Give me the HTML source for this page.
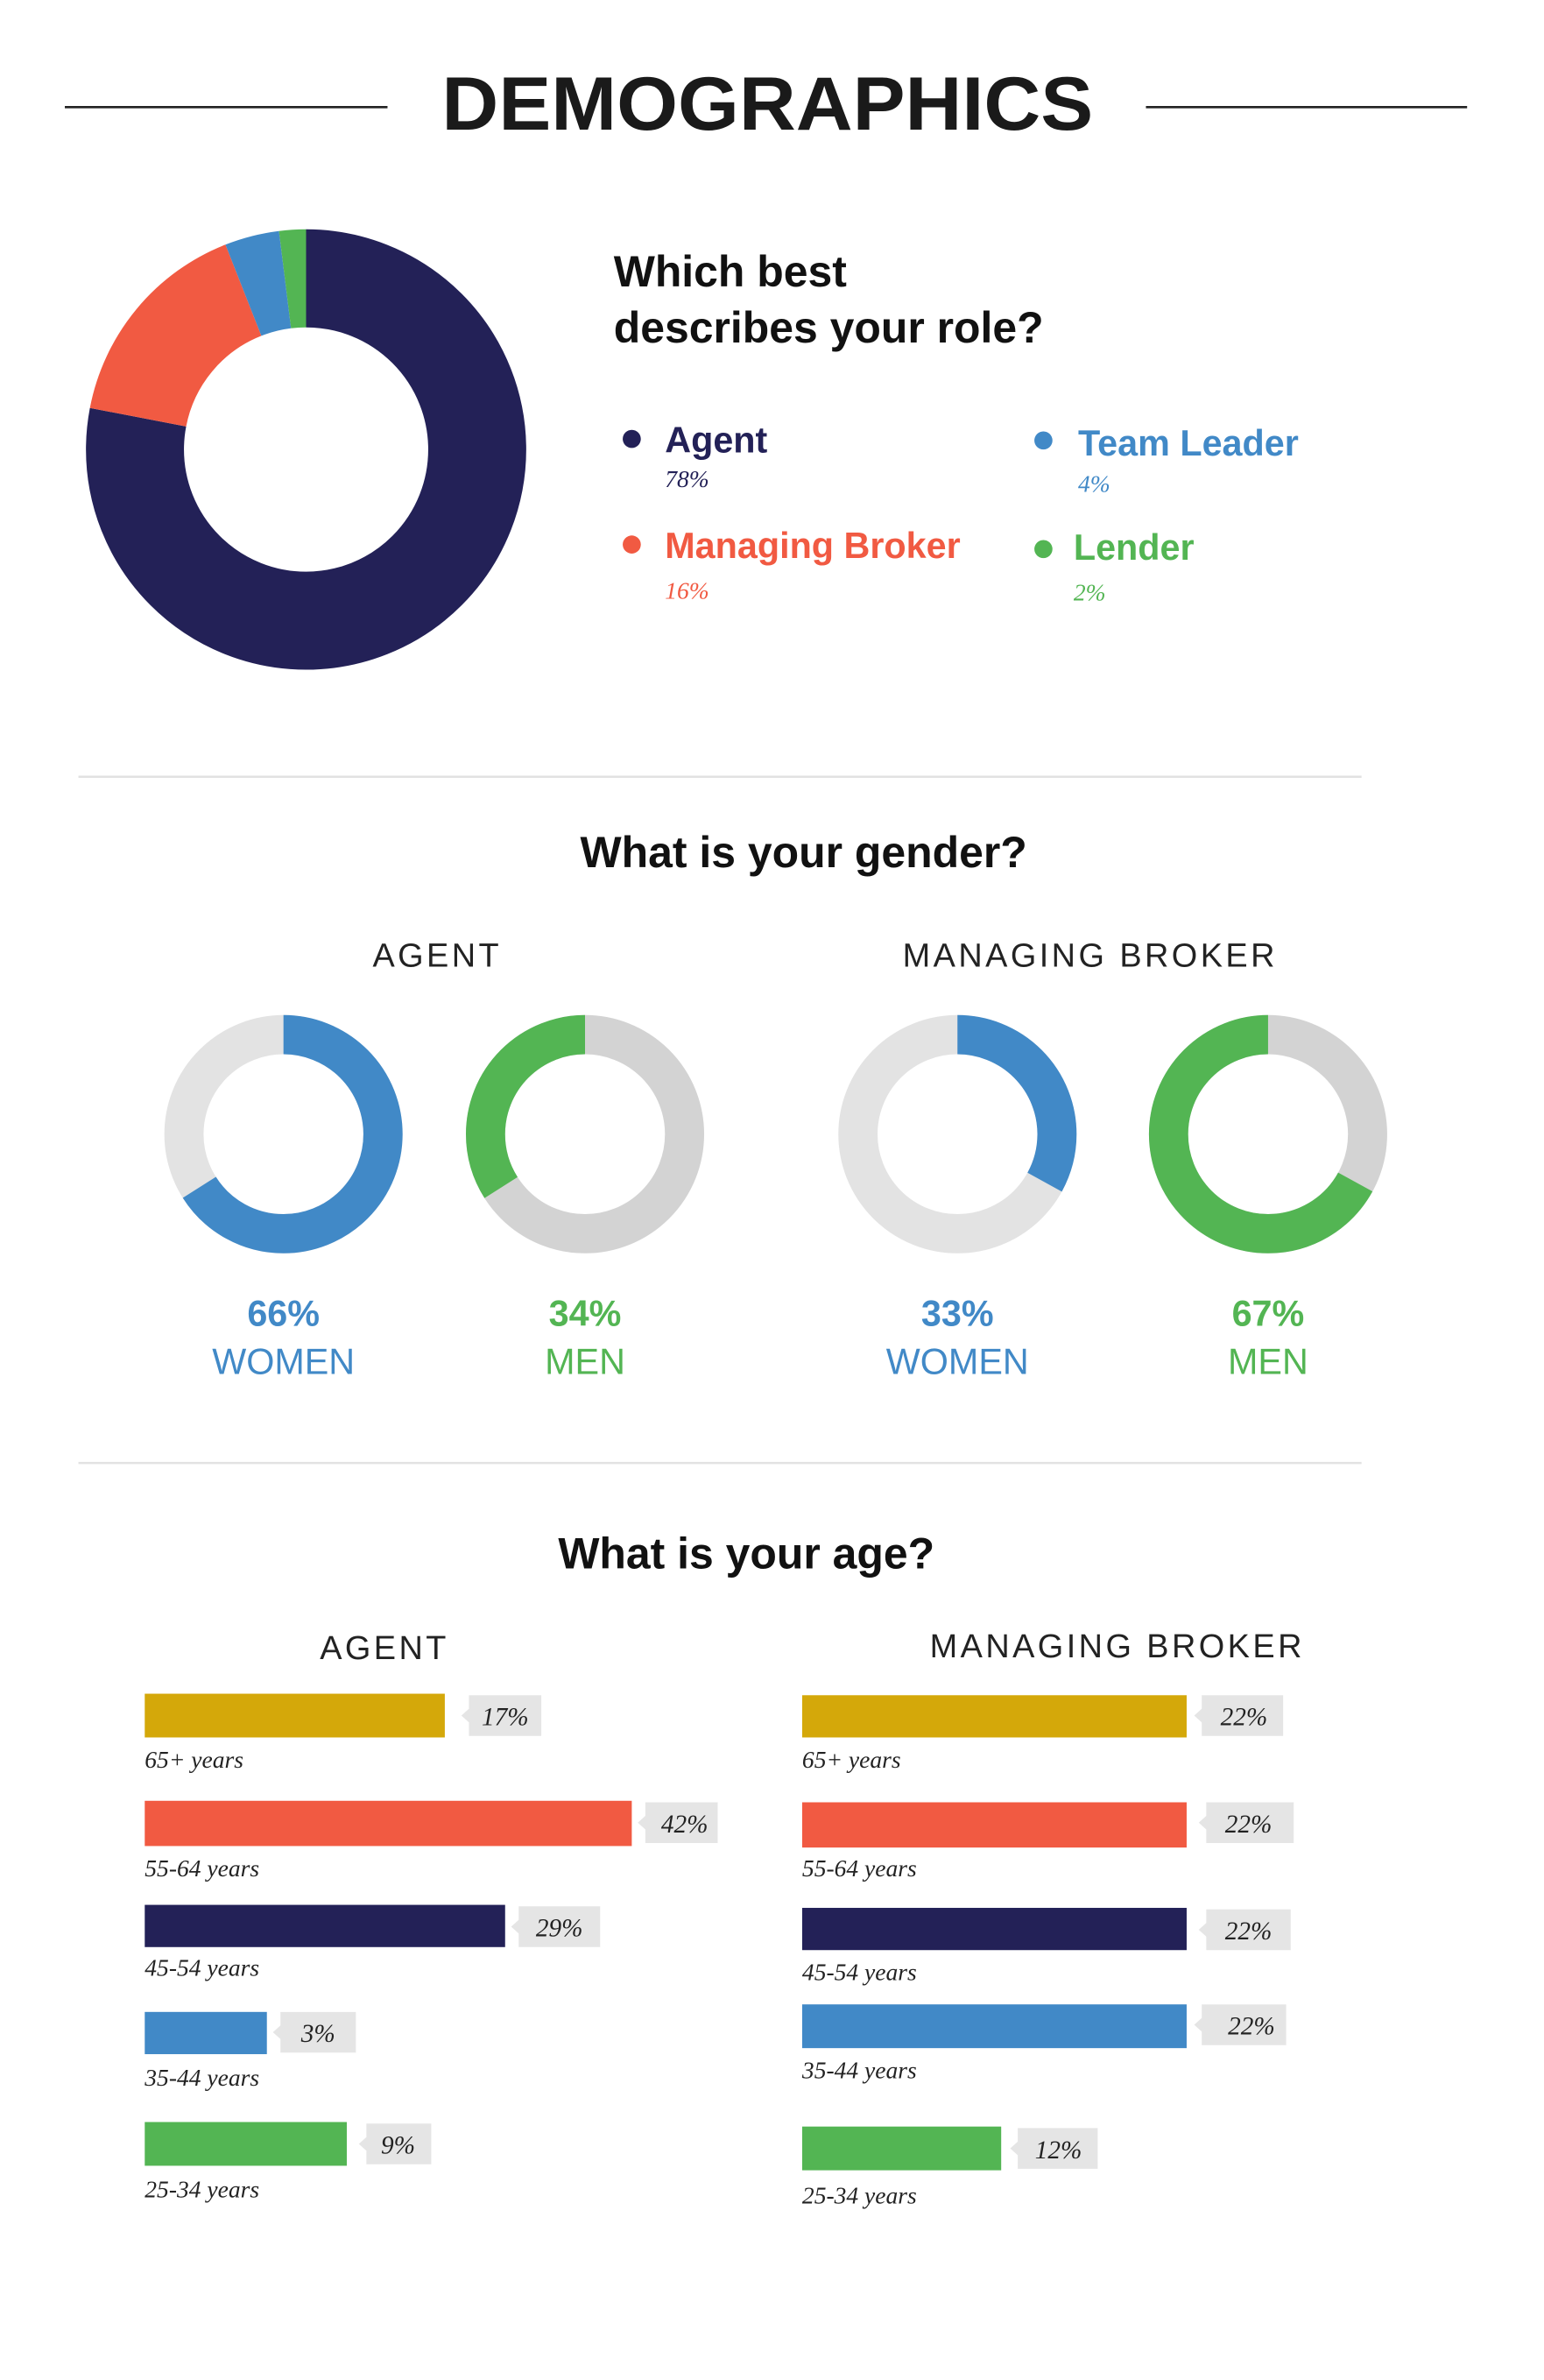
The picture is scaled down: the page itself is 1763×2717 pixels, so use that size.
<!DOCTYPE html>
<html><head><meta charset="utf-8"><style>
html,body{margin:0;padding:0;background:#fff}
svg{display:block}
.sans{font-family:"Liberation Sans",sans-serif}
.ser{font-family:"Liberation Serif",serif;font-style:italic}
</style></head><body>
<svg width="1763" height="2717" viewBox="0 0 1024 1578" xmlns="http://www.w3.org/2000/svg">
<rect width="1024" height="1578" fill="#fff"/>
<line x1="43" y1="71" x2="257" y2="71" stroke="#222" stroke-width="1.5"/>
<line x1="760" y1="71" x2="973" y2="71" stroke="#222" stroke-width="1.5"/>
<text x="509" y="86" text-anchor="middle" class="sans" font-weight="bold" font-size="50" fill="#1a1a1a" textLength="432" lengthAdjust="spacingAndGlyphs">DEMOGRAPHICS</text>

<!-- big donut -->
<g transform="rotate(-90 203 298)" fill="none" stroke-width="65">
<circle cx="203" cy="298" r="113.5" stroke="#232157" stroke-dasharray="556.2 1000"/>
<circle cx="203" cy="298" r="113.5" stroke="#f15a42" stroke-dasharray="0 556.2 114.1 1000"/>
<circle cx="203" cy="298" r="113.5" stroke="#4189c7" stroke-dasharray="0 670.3 28.5 1000"/>
<circle cx="203" cy="298" r="113.5" stroke="#53b553" stroke-dasharray="0 698.8 14.4 1000"/>
</g>
<g class="sans" font-weight="bold" font-size="29" fill="#111">
<text x="407" y="190">Which best</text>
<text x="407" y="227">describes your role?</text>
</g>
<circle cx="419" cy="291" r="6" fill="#232157"/>
<text x="441" y="300" class="sans" font-weight="bold" font-size="24" fill="#232157">Agent</text>
<text x="441" y="323" class="ser" font-size="16" fill="#232157">78%</text>
<circle cx="692" cy="292" r="6" fill="#4189c7"/>
<text x="715" y="302" class="sans" font-weight="bold" font-size="24" fill="#4189c7">Team Leader</text>
<text x="715" y="326" class="ser" font-size="16" fill="#4189c7">4%</text>
<circle cx="419" cy="361" r="6" fill="#f15a42"/>
<text x="441" y="370" class="sans" font-weight="bold" font-size="24" fill="#f15a42">Managing Broker</text>
<text x="441" y="397" class="ser" font-size="16" fill="#f15a42">16%</text>
<circle cx="692" cy="364" r="6" fill="#53b553"/>
<text x="712" y="371" class="sans" font-weight="bold" font-size="24" fill="#53b553">Lender</text>
<text x="712" y="398" class="ser" font-size="16" fill="#53b553">2%</text>

<line x1="52" y1="515" x2="903" y2="515" stroke="#e2e2e2" stroke-width="1.5"/>
<text x="533" y="575" text-anchor="middle" class="sans" font-weight="bold" font-size="29" fill="#111">What is your gender?</text>
<text x="290" y="641" text-anchor="middle" class="sans" font-size="22" letter-spacing="2" fill="#222">AGENT</text>
<text x="723" y="641" text-anchor="middle" class="sans" font-size="22" letter-spacing="2" fill="#222">MANAGING BROKER</text>

<g fill="none" stroke-width="26">
<circle cx="188" cy="752" r="66" stroke="#e3e3e3"/>
<circle cx="188" cy="752" r="66" stroke="#4189c7" stroke-dasharray="273.7 1000" transform="rotate(-90 188 752)"/>
<circle cx="388" cy="752" r="66" stroke="#d3d3d3"/>
<circle cx="388" cy="752" r="66" stroke="#53b553" stroke-dasharray="141 1000" transform="translate(776 0) scale(-1 1) rotate(-90 388 752)"/>
<circle cx="635" cy="752" r="66" stroke="#e3e3e3"/>
<circle cx="635" cy="752" r="66" stroke="#4189c7" stroke-dasharray="136.8 1000" transform="rotate(-90 635 752)"/>
<circle cx="841" cy="752" r="66" stroke="#d3d3d3"/>
<circle cx="841" cy="752" r="66" stroke="#53b553" stroke-dasharray="277.8 1000" transform="translate(1682 0) scale(-1 1) rotate(-90 841 752)"/>
</g>
<g class="sans" text-anchor="middle" font-size="24">
<text x="188" y="879" font-weight="bold" fill="#4189c7">66%</text>
<text x="188" y="911" fill="#4189c7">WOMEN</text>
<text x="388" y="879" font-weight="bold" fill="#53b553">34%</text>
<text x="388" y="911" fill="#53b553">MEN</text>
<text x="635" y="879" font-weight="bold" fill="#4189c7">33%</text>
<text x="635" y="911" fill="#4189c7">WOMEN</text>
<text x="841" y="879" font-weight="bold" fill="#53b553">67%</text>
<text x="841" y="911" fill="#53b553">MEN</text>
</g>

<line x1="52" y1="970" x2="903" y2="970" stroke="#e2e2e2" stroke-width="1.5"/>
<text x="495" y="1040" text-anchor="middle" class="sans" font-weight="bold" font-size="29" fill="#111">What is your age?</text>
<text x="255" y="1100" text-anchor="middle" class="sans" font-size="22" letter-spacing="2" fill="#222">AGENT</text>
<text x="741" y="1099" text-anchor="middle" class="sans" font-size="22" letter-spacing="2" fill="#222">MANAGING BROKER</text>

<g class="ser" font-size="17" fill="#222">
<!-- agent -->
<rect x="96" y="1123" width="199" height="29" fill="#d4a80a"/>
<polygon points="311,1124 359,1124 359,1151 311,1151 311,1142 306,1137.5 311,1133" fill="#e5e5e5"/>
<text x="335" y="1144" text-anchor="middle">17%</text>
<text x="96" y="1172" font-size="16">65+ years</text>

<rect x="96" y="1194" width="323" height="30" fill="#f15a42"/>
<polygon points="428,1195 476,1195 476,1222 428,1222 428,1213 423,1208.5 428,1204" fill="#e5e5e5"/>
<text x="454" y="1215" text-anchor="middle">42%</text>
<text x="96" y="1244" font-size="16">55-64 years</text>

<rect x="96" y="1263" width="239" height="28" fill="#232157"/>
<polygon points="344,1264 398,1264 398,1291 344,1291 344,1282 339,1277.5 344,1273" fill="#e5e5e5"/>
<text x="371" y="1284" text-anchor="middle">29%</text>
<text x="96" y="1310" font-size="16">45-54 years</text>

<rect x="96" y="1334" width="81" height="28" fill="#4189c7"/>
<polygon points="186,1334 236,1334 236,1361 186,1361 186,1352 181,1347.5 186,1343" fill="#e5e5e5"/>
<text x="211" y="1354" text-anchor="middle">3%</text>
<text x="96" y="1383" font-size="16">35-44 years</text>

<rect x="96" y="1407" width="134" height="29" fill="#53b553"/>
<polygon points="243,1408 286,1408 286,1435 243,1435 243,1426 238,1421.5 243,1417" fill="#e5e5e5"/>
<text x="264" y="1428" text-anchor="middle">9%</text>
<text x="96" y="1457" font-size="16">25-34 years</text>

<!-- MB -->
<rect x="532" y="1124" width="255" height="28" fill="#d4a80a"/>
<polygon points="797,1124 851,1124 851,1151 797,1151 797,1142 792,1137.5 797,1133" fill="#e5e5e5"/>
<text x="825" y="1144" text-anchor="middle">22%</text>
<text x="532" y="1172" font-size="16">65+ years</text>

<rect x="532" y="1195" width="255" height="30" fill="#f15a42"/>
<polygon points="800,1195 858,1195 858,1222 800,1222 800,1213 795,1208.5 800,1204" fill="#e5e5e5"/>
<text x="828" y="1215" text-anchor="middle">22%</text>
<text x="532" y="1244" font-size="16">55-64 years</text>

<rect x="532" y="1265" width="255" height="28" fill="#232157"/>
<polygon points="800,1266 856,1266 856,1293 800,1293 800,1284 795,1279.5 800,1275" fill="#e5e5e5"/>
<text x="828" y="1286" text-anchor="middle">22%</text>
<text x="532" y="1313" font-size="16">45-54 years</text>

<rect x="532" y="1329" width="255" height="29" fill="#4189c7"/>
<polygon points="797,1329 853,1329 853,1356 797,1356 797,1347 792,1342.5 797,1338" fill="#e5e5e5"/>
<text x="830" y="1349" text-anchor="middle">22%</text>
<text x="532" y="1378" font-size="16">35-44 years</text>

<rect x="532" y="1410" width="132" height="29" fill="#53b553"/>
<polygon points="675,1411 728,1411 728,1438 675,1438 675,1429 670,1424.5 675,1420" fill="#e5e5e5"/>
<text x="702" y="1431" text-anchor="middle">12%</text>
<text x="532" y="1461" font-size="16">25-34 years</text>
</g>
</svg>
</body></html>
